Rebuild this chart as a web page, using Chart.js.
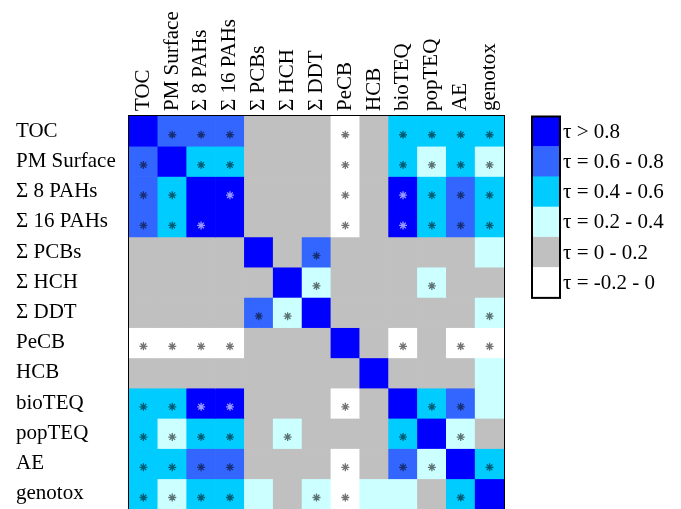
<!DOCTYPE html>
<html>
<head>
<meta charset="utf-8">
<script src="https://cdn.jsdelivr.net/npm/chart.js@4/dist/chart.umd.min.js"></script>
<style>
  body { margin: 0; background: #fff; }
  #wrap { width: 681px; height: 509px; }
</style>
</head>
<body>
<div id="wrap"><canvas id="heat"></canvas></div>
<script>
// variáveis (linhas e colunas)
const varLabels = ["TOC", "PM Surface", "Σ 8 PAHs", "Σ 16 PAHs", "Σ PCBs", "Σ HCH", "Σ DDT",
  "PeCB", "HCB", "bioTEQ", "popTEQ", "AE", "genotox"];

// classes de tau: 5 = >0.8, 4 = 0.6-0.8, 3 = 0.4-0.6, 2 = 0.2-0.4, 1 = 0-0.2, 0 = -0.2-0
const tauClass = [
  [5, 4, 4, 4, 1, 1, 1, 0, 1, 3, 3, 3, 3],
  [4, 5, 3, 3, 1, 1, 1, 0, 1, 3, 2, 3, 2],
  [4, 3, 5, 5, 1, 1, 1, 0, 1, 5, 3, 4, 3],
  [4, 3, 5, 5, 1, 1, 1, 0, 1, 5, 3, 4, 3],
  [1, 1, 1, 1, 5, 1, 4, 1, 1, 1, 1, 1, 2],
  [1, 1, 1, 1, 1, 5, 2, 1, 1, 1, 2, 1, 1],
  [1, 1, 1, 1, 4, 2, 5, 1, 1, 1, 1, 1, 2],
  [0, 0, 0, 0, 1, 1, 1, 5, 1, 0, 1, 0, 0],
  [1, 1, 1, 1, 1, 1, 1, 1, 5, 1, 1, 1, 2],
  [3, 3, 5, 5, 1, 1, 1, 0, 1, 5, 3, 4, 2],
  [3, 2, 3, 3, 1, 2, 1, 1, 1, 3, 5, 2, 1],
  [3, 3, 4, 4, 1, 1, 1, 0, 1, 4, 2, 5, 3],
  [3, 2, 3, 3, 2, 1, 2, 0, 2, 2, 1, 3, 5]
];

// significância (*)
const signif = [
  [0, 1, 1, 1, 0, 0, 0, 1, 0, 1, 1, 1, 1],
  [1, 0, 1, 1, 0, 0, 0, 1, 0, 1, 1, 1, 1],
  [1, 1, 0, 1, 0, 0, 0, 1, 0, 1, 1, 1, 1],
  [1, 1, 1, 0, 0, 0, 0, 1, 0, 1, 1, 1, 1],
  [0, 0, 0, 0, 0, 0, 1, 0, 0, 0, 0, 0, 0],
  [0, 0, 0, 0, 0, 0, 1, 0, 0, 0, 1, 0, 0],
  [0, 0, 0, 0, 1, 1, 0, 0, 0, 0, 0, 0, 1],
  [1, 1, 1, 1, 0, 0, 0, 0, 0, 1, 0, 1, 1],
  [0, 0, 0, 0, 0, 0, 0, 0, 0, 0, 0, 0, 0],
  [1, 1, 1, 1, 0, 0, 0, 1, 0, 0, 1, 1, 0],
  [1, 1, 1, 1, 0, 1, 0, 0, 0, 1, 0, 1, 0],
  [1, 1, 1, 1, 0, 0, 0, 1, 0, 1, 1, 0, 1],
  [1, 1, 1, 1, 0, 0, 1, 1, 0, 0, 0, 1, 0]
];

// legenda
const classColors = ["#ffffff", "#c0c0c0", "#ccffff", "#00ccff", "#3366ff", "#0000ff"];
const legendLabels = ["τ > 0.8", "τ = 0.6 - 0.8", "τ = 0.4 - 0.6", "τ = 0.2 - 0.4", "τ = 0 - 0.2", "τ = -0.2 - 0"];
const legendClasses = [5, 4, 3, 2, 1, 0];

const FONT = { family: "'Liberation Serif', 'Times New Roman', serif", size: 21 };

// uma série de barras flutuantes por linha
const cellSets = tauClass.map((row, r) => ({
  type: "bar",
  data: row.map(() => [r, r + 1]),
  backgroundColor: row.map(k => classColors[k]),
  borderWidth: 0,
  grouped: false,
  barPercentage: 1,
  categoryPercentage: 1,
  xAxisID: "x",
  yAxisID: "y"
}));

// asteriscos
const starPts = [];
const starCols = [];
signif.forEach((row, r) => row.forEach((s, c) => {
  if (!s) return;
  starPts.push({ x: varLabels[c], y: r + 0.62 });
  starCols.push(tauClass[r][c] === 5 ? "rgba(255,255,255,0.6)" : "rgba(0,0,0,0.55)");
}));

const starSet = {
  type: "line",
  data: starPts,
  showLine: false,
  pointStyle: "star",
  pointRadius: 4,
  pointBorderWidth: 1.3,
  pointBorderColor: starCols,
  pointHoverRadius: 4,
  order: -1,
  xAxisID: "x",
  yAxisID: "y"
};

// legenda desenhada ao lado
const legendPlugin = {
  id: "tauLegend",
  afterDraw(chart) {
    const { ctx, chartArea } = chart;
    const h = (chartArea.bottom - chartArea.top) / varLabels.length;
    const x0 = 532, w = 28;
    ctx.save();
    legendClasses.forEach((k, i) => {
      const y = chartArea.top + i * h;
      ctx.fillStyle = classColors[k];
      ctx.fillRect(x0, y, w, h + 0.5);
      ctx.fillStyle = "#000";
      ctx.font = FONT.size + "px " + FONT.family;
      ctx.textBaseline = "middle";
      ctx.textAlign = "left";
      ctx.fillText(legendLabels[i], x0 + w + 3, y + h / 2 + 1);
    });
    ctx.strokeStyle = "#000";
    ctx.lineWidth = 2;
    ctx.strokeRect(x0, chartArea.top + 0.5, w, h * legendClasses.length);
    ctx.restore();
  }
};

new Chart(document.getElementById("heat"), {
  data: { labels: varLabels, datasets: [...cellSets, starSet] },
  options: {
    responsive: true,
    maintainAspectRatio: false,
    animation: false,
    layout: { autoPadding: false, padding: { left: 16, right: 177, top: 0, bottom: 0 } },
    plugins: { legend: { display: false }, tooltip: { enabled: false } },
    scales: {
      x: {
        type: "category",
        position: "top",
        offset: true,
        grid: { display: false, drawTicks: false },
        border: { display: true, color: "#000", width: 2 },
        ticks: { font: FONT, color: "#000", minRotation: 90, maxRotation: 90, autoSkip: false, padding: 5, labelOffset: 25 },
        afterFit(s) { s.height = 116; s.paddingLeft = 0; s.paddingRight = 0; }
      },
      y: {
        type: "linear",
        position: "right",
        min: 0,
        max: 13,
        reverse: true,
        grid: { display: false, drawTicks: false },
        border: { display: true, color: "#000", width: 2 },
        ticks: { display: false },
        afterFit(s) { s.width = 0; s.paddingTop = 0; s.paddingBottom = 0; }
      },
      yl: {
        type: "category",
        labels: varLabels,
        position: "left",
        offset: true,
        grid: { display: false, drawTicks: false },
        border: { display: true, color: "#000", width: 2 },
        ticks: { font: FONT, color: "#000", crossAlign: "far", autoSkip: false, padding: 0 },
        afterFit(s) { s.width = 113; s.paddingTop = 0; s.paddingBottom = 0; }
      }
    }
  },
  plugins: [legendPlugin]
});
</script>
</body>
</html>
